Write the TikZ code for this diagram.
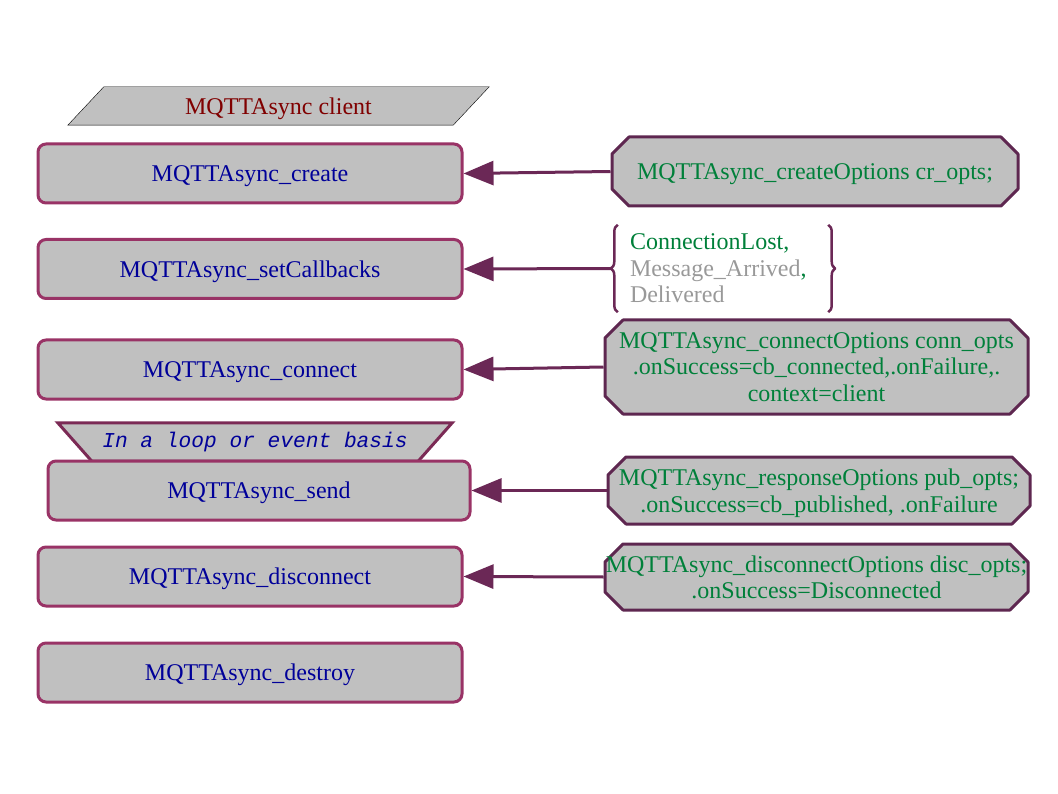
\documentclass[tikz,border=0pt]{standalone}
\usepackage{fontspec}
\setmainfont{Liberation Serif}
\setmonofont{Liberation Mono}
\usetikzlibrary{arrows.meta, positioning, shapes.misc, decorations.pathreplacing, backgrounds}
\definecolor{boxgray}{HTML}{C0C0C0}
\definecolor{stepedge}{HTML}{993366}
\definecolor{optedge}{HTML}{5E2750}
\definecolor{loopedge}{HTML}{7B2A55}
\definecolor{wire}{HTML}{6B2856}
\definecolor{callblue}{HTML}{000099}
\definecolor{optgreen}{HTML}{00803A}
\definecolor{clientred}{HTML}{800000}
\definecolor{cbgray}{HTML}{999999}
\tikzset{
  >={Triangle[length=30pt, width=24pt]},
  every picture/.style={line join=round},
  every node/.style={font=\fontsize{24}{26.5}\selectfont},
  % calls on the left
  stepbox/.style={rectangle, rounded corners=8pt, draw=stepedge, line width=3pt,
    fill=boxgray, text=callblue, minimum width=424pt, minimum height=59pt, inner sep=0pt, text depth=0pt},
  % option structs on the right
  optbox/.style={chamfered rectangle, chamfered rectangle xsep=9pt, chamfered rectangle ysep=9pt,
    draw=optedge, line width=3pt, fill=boxgray, text=optgreen, align=center, inner xsep=1pt,
    inner ysep=0pt, text depth=0pt},
  wirearrow/.style={->, draw=wire, line width=3pt},
  brace/.style={decorate, decoration={brace, amplitude=7pt}, draw=wire, line width=2.5pt},
}
\begin{document}
\begin{tikzpicture}[x=1pt, y=-1pt]
  \useasboundingbox (0,0) rectangle (1058,794);
  % ---------------- header (slanted box)
  \node[text=clientred, minimum width=349pt, minimum height=38pt, inner sep=0pt, text depth=0pt]
    (client) at (278.5,106) {MQTTAsync client};
  \begin{scope}[on background layer]
    \filldraw[draw=black, thin, fill=boxgray]
      ([xshift=-36pt]client.south west) -- (client.north west)
      -- ([xshift=36pt]client.north east) -- (client.south east) -- cycle;
  \end{scope}
  % ---------------- sequence of calls
  \node[stepbox] (create) at (250,173.5) {MQTTAsync\_create};
  \node[stepbox] (setcb) at (250,269) {MQTTAsync\_setCallbacks};
  \node[stepbox] (connect) at (250,369.5) {MQTTAsync\_connect};
  \node[stepbox, minimum width=422pt] (send) at (259,490.5) {MQTTAsync\_send};
  \node[stepbox] (disconnect) at (250,576.5) {MQTTAsync\_disconnect};
  \node[stepbox] (destroy) at (250,672.5) {MQTTAsync\_destroy};
  % loop banner: wider on top, sits on the send box
  \node[text=callblue, minimum width=326pt, minimum height=38pt, inner sep=0pt,
    font=\fontsize{21.2}{24}\selectfont\ttfamily\itshape]
    (loop) at (255,442) {In a loop or event basis};
  \begin{scope}[on background layer]
    \filldraw[draw=loopedge, line width=3pt, fill=boxgray]
      ([xshift=-34pt]loop.north west) -- ([xshift=34pt]loop.north east)
      -- (loop.south east) -- (loop.south west) -- cycle;
  \end{scope}
  % ---------------- options
  \node[optbox, minimum width=406pt, minimum height=69pt] (cropts) at (815,171.5)
    {MQTTAsync\_createOptions cr\_opts;};
  \node[align=left, text width=186pt, inner xsep=12pt, inner ysep=0pt, minimum height=87pt]
    (cbs) at (723,268.5)
    {\textcolor{optgreen}{ConnectionLost,}\\ \textcolor{cbgray}{Message\_Arrived}\textcolor{optgreen}{,}\\ \textcolor{cbgray}{Delivered}};
  \draw[brace] (cbs.south west) -- (cbs.north west);
  \draw[brace] (cbs.north east) -- (cbs.south east);
  \node[optbox, minimum width=423pt, minimum height=94pt] (connopts) at (816.5,367)
    {MQTTAsync\_connectOptions conn\_opts\\ .onSuccess=cb\_connected,.onFailure,.\\ context=client};
  \node[optbox, minimum width=422pt, minimum height=67pt] (pubopts) at (819,490.5)
    {MQTTAsync\_responseOptions pub\_opts;\\ .onSuccess=cb\_published, .onFailure};
  \node[optbox, minimum width=423pt, minimum height=66pt] (discopts) at (816.5,577)
    {\makebox[380pt]{MQTTAsync\_disconnectOptions disc\_opts;}\\ .onSuccess=Disconnected};
  % ---------------- connectors
  \draw[wirearrow] (cropts.west) -- (create.east);
  \draw[wirearrow] ([xshift=-7pt]cbs.west) -- (setcb.east);
  \draw[wirearrow] (connopts.west) -- (connect.east);
  \draw[wirearrow] (pubopts.west) -- (send.east);
  \draw[wirearrow] (discopts.west) -- (disconnect.east);
\end{tikzpicture}
\end{document}
